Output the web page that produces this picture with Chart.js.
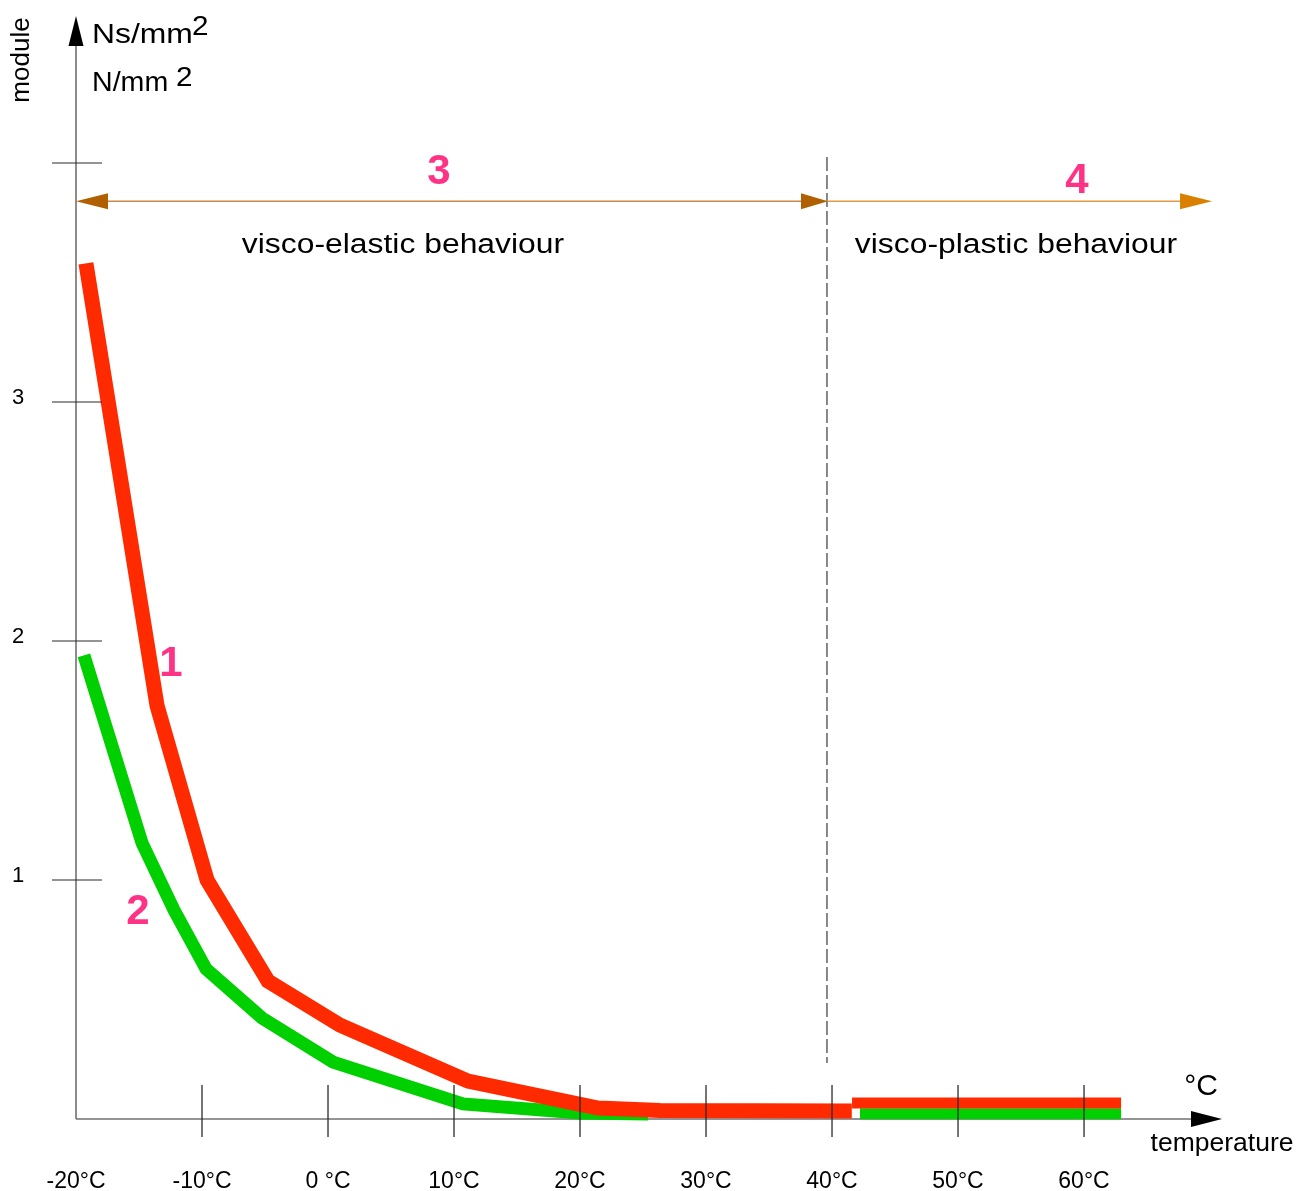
<!DOCTYPE html>
<html>
<head>
<meta charset="utf-8">
<title>module vs temperature</title>
<script src="https://cdn.jsdelivr.net/npm/chart.js@4.4.1/dist/chart.umd.min.js"></script>
<style>
  html, body { margin: 0; padding: 0; background: #ffffff; overflow: hidden; }
  canvas { display: block; }
</style>
</head>
<body>
<canvas id="chart" width="1298" height="1191"></canvas>
<script>
// Temperature axis (°C)
const tempMarks = [-10, 0, 10, 20, 30, 40, 50, 60];
const tempLabelValues = [-20, -10, 0, 10, 20, 30, 40, 50, 60];
const tempLabels = ['-20°C', '-10°C', '0 °C', '10°C', '20°C', '30°C', '40°C', '50°C', '60°C'];

// Module axis (Ns/mm², N/mm²)
const moduleMarks = [1, 2, 3, 4];
const moduleLabels = ['1', '2', '3', ''];

// Curve 1 (red)
const curve1Temp = [-19.21, -13.57, -9.60, -4.76, 0.95, 11.11, 21.43, 26.35, 41.57];
const curve1Module = [3.58, 1.73, 1.00, 0.577, 0.393, 0.159, 0.046, 0.036, 0.033];
const curve1HighTemp = [41.59, 62.94];
const curve1HighModule = [0.067, 0.067];

// Curve 2 (green)
const curve2Temp = [-19.37, -14.76, -12.22, -9.68, -5.24, 0.40, 10.71, 20.0, 25.40];
const curve2Module = [1.94, 1.155, 0.874, 0.628, 0.423, 0.238, 0.063, 0.025, 0.021];
const curve2HighTemp = [42.22, 62.94];
const curve2HighModule = [0.022, 0.022];

// Behaviour regions
const regionBoundary = 39.6;
const regionArrowEnd = 70.16;

const toPoints = (xs, ys) => xs.map((v, i) => ({ x: v, y: ys[i] }));

const FONT = '"Liberation Sans", Arial, Helvetica, sans-serif';
const PINK = '#ff3385';
const RED = '#ff2a00';
const GREEN = '#00cf00';

function drawText(ctx, str, px, py, font, color, align, baseline, sx) {
  ctx.save();
  ctx.font = font;
  ctx.fillStyle = color;
  ctx.textAlign = align;
  ctx.textBaseline = baseline;
  ctx.translate(px, py);
  ctx.scale(sx || 1, 1);
  ctx.fillText(str, 0, 0);
  ctx.restore();
}

function drawLine(ctx, x1, y1, x2, y2, color, width, dash) {
  ctx.save();
  ctx.strokeStyle = color;
  ctx.lineWidth = width;
  ctx.setLineDash(dash || []);
  ctx.beginPath();
  ctx.moveTo(x1, y1);
  ctx.lineTo(x2, y2);
  ctx.stroke();
  ctx.restore();
}

function drawHead(ctx, tipX, tipY, dir, length, half, color) {
  // dir: 'left' | 'right' | 'up'
  ctx.save();
  ctx.fillStyle = color;
  ctx.beginPath();
  if (dir === 'up') {
    ctx.moveTo(tipX, tipY);
    ctx.lineTo(tipX - half, tipY + length);
    ctx.lineTo(tipX + half, tipY + length);
  } else {
    const s = dir === 'left' ? 1 : -1;
    ctx.moveTo(tipX, tipY);
    ctx.lineTo(tipX + s * length, tipY - half);
    ctx.lineTo(tipX + s * length, tipY + half);
  }
  ctx.closePath();
  ctx.fill();
  ctx.restore();
}

// Axes, region arrows and captions underneath the curves
const backdrop = {
  id: 'backdrop',
  beforeDatasetsDraw(chart) {
    const { ctx, chartArea: a, scales: { x, y } } = chart;
    const x0 = x.getPixelForValue(-20);
    const y0 = y.getPixelForValue(0);

    // y axis with arrow
    drawLine(ctx, x0, y0, x0, a.top + 22, '#707070', 1.6);
    drawHead(ctx, x0, a.top - 6, 'up', 30, 7.5, '#000');
    // x axis with arrow
    drawLine(ctx, x0, y0, a.right - 28, y0, '#707070', 1.6);
    drawHead(ctx, a.right, y0, 'right', 31, 8, '#000');

    // boundary between the two behaviours
    const bx = x.getPixelForValue(regionBoundary);
    drawLine(ctx, bx, y.getPixelForValue(4.025), bx, y.getPixelForValue(0.234), '#3a3a3a', 1.2, [14, 4]);

    // region arrows
    const ay = y.getPixelForValue(3.84);
    const ax1 = x.getPixelForValue(regionArrowEnd);
    drawLine(ctx, x0 + 20, ay, bx - 20, ay, '#c98a4a', 1.4);
    drawLine(ctx, bx, ay, ax1 - 20, ay, '#e39a45', 1.4);
    drawHead(ctx, x0, ay, 'left', 32, 8, '#b06000');
    drawHead(ctx, bx + 1, ay, 'right', 27, 8, '#b06000');
    drawHead(ctx, ax1, ay, 'right', 32, 8, '#d98000');

    // region captions
    drawText(ctx, '3', x.getPixelForValue(8.81), y.getPixelForValue(3.96), 'bold 42px ' + FONT, PINK, 'center', 'middle');
    drawText(ctx, '4', x.getPixelForValue(59.44), y.getPixelForValue(3.925), 'bold 42px ' + FONT, PINK, 'center', 'middle');
    drawText(ctx, 'visco-elastic behaviour', x.getPixelForValue(5.95), y.getPixelForValue(3.624), '27px ' + FONT, '#000', 'center', 'alphabetic', 1.18);
    drawText(ctx, 'visco-plastic behaviour', x.getPixelForValue(54.6), y.getPixelForValue(3.624), '27px ' + FONT, '#000', 'center', 'alphabetic', 1.18);

    // axis titles
    ctx.save();
    ctx.translate(29, 60);
    ctx.rotate(-Math.PI / 2);
    ctx.font = '26px ' + FONT;
    ctx.fillStyle = '#000';
    ctx.textAlign = 'center';
    ctx.textBaseline = 'alphabetic';
    ctx.fillText('module', 0, 0);
    ctx.restore();

    drawText(ctx, 'Ns/mm', 92, 43, '27px ' + FONT, '#000', 'left', 'alphabetic', 1.18);
    drawText(ctx, '2', 192, 35, '27px ' + FONT, '#000', 'left', 'alphabetic', 1.1);
    drawText(ctx, 'N/mm', 92, 91, '27px ' + FONT, '#000', 'left', 'alphabetic', 1.06);
    drawText(ctx, '2', 176, 86, '27px ' + FONT, '#000', 'left', 'alphabetic', 1.1);

    drawText(ctx, '°C', a.right - 21, y0 - 24, '30px ' + FONT, '#000', 'center', 'alphabetic');
    drawText(ctx, 'temperature', a.right, y0 + 32, '25px ' + FONT, '#000', 'center', 'alphabetic', 1.06);
  }
};

// Tick marks and tick labels above the curves
const tickLayer = {
  id: 'tickLayer',
  afterDatasetsDraw(chart) {
    const { ctx, scales: { x, y } } = chart;
    const x0 = x.getPixelForValue(-20);
    const y0 = y.getPixelForValue(0);

    tempMarks.forEach(v => {
      const px = x.getPixelForValue(v);
      drawLine(ctx, px, y0 - 34, px, y0 + 18, '#2a2a2a', 1.3);
    });
    tempLabelValues.forEach((v, i) => {
      drawText(ctx, tempLabels[i], x.getPixelForValue(v), y0 + 69, '23px ' + FONT, '#000', 'center', 'alphabetic');
    });

    moduleMarks.forEach((v, i) => {
      const py = y.getPixelForValue(v);
      drawLine(ctx, x0 - 24, py, x0 + 26, py, '#2a2a2a', 1.2);
      if (moduleLabels[i]) {
        drawText(ctx, moduleLabels[i], 18, py - 4, '22px ' + FONT, '#000', 'center', 'middle');
      }
    });

    // curve numbers
    drawText(ctx, '1', x.getPixelForValue(-12.46), y.getPixelForValue(1.904), 'bold 42px ' + FONT, PINK, 'center', 'middle');
    drawText(ctx, '2', x.getPixelForValue(-15.08), y.getPixelForValue(0.866), 'bold 42px ' + FONT, PINK, 'center', 'middle');
  }
};

const lineStyle = {
  pointRadius: 0,
  pointHoverRadius: 0,
  fill: false,
  tension: 0,
  borderCapStyle: 'butt',
  borderJoinStyle: 'miter',
  clip: false
};

new Chart(document.getElementById('chart'), {
  type: 'line',
  data: {
    datasets: [
      Object.assign({ label: '1', data: toPoints(curve1Temp, curve1Module), borderColor: RED, borderWidth: 15, order: 1 }, lineStyle),
      Object.assign({ label: '1 (high)', data: toPoints(curve1HighTemp, curve1HighModule), borderColor: RED, borderWidth: 11, order: 1 }, lineStyle),
      Object.assign({ label: '2', data: toPoints(curve2Temp, curve2Module), borderColor: GREEN, borderWidth: 13, order: 2 }, lineStyle),
      Object.assign({ label: '2 (high)', data: toPoints(curve2HighTemp, curve2HighModule), borderColor: GREEN, borderWidth: 11, order: 2 }, lineStyle)
    ]
  },
  options: {
    responsive: false,
    devicePixelRatio: 1,
    animation: false,
    events: [],
    layout: { padding: { left: 76, right: 76, top: 22, bottom: 72 } },
    scales: {
      x: { type: 'linear', min: -20, max: 70.95, display: false },
      y: { type: 'linear', min: 0, max: 4.59, display: false }
    },
    plugins: {
      legend: { display: false },
      tooltip: { enabled: false }
    }
  },
  plugins: [backdrop, tickLayer]
});
</script>
</body>
</html>
